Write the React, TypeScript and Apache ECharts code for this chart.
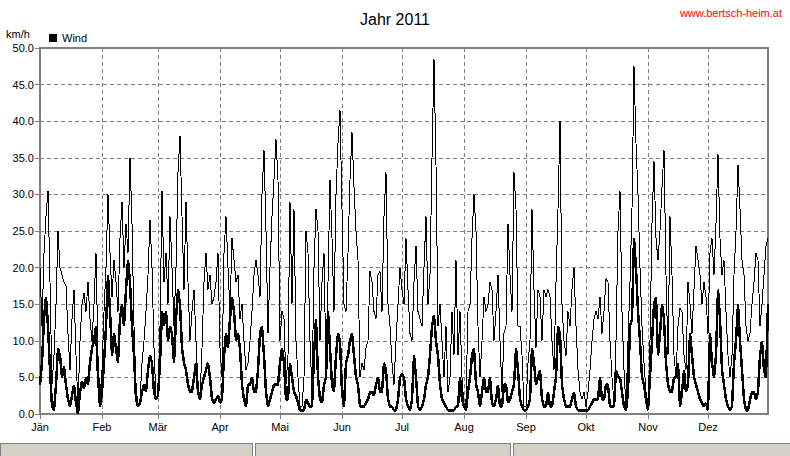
import React, { useEffect, useRef } from "react";
import * as echarts from "echarts";

const monthLabels = ["Jän", "Feb", "Mär", "Apr", "Mai", "Jun", "Jul", "Aug", "Sep", "Okt", "Nov", "Dez"];
const monthStarts = [0, 31, 59, 90, 120, 151, 181, 212, 243, 273, 304, 334];

// daily gusts (thin line), km/h
const gust = [
  20, 12, 22, 27, 30.5, 18, 4, 8, 15, 25,
  20, 19, 18, 17.5, 11, 6, 13, 17, 8, 1,
  10, 15, 16.5, 14, 18, 13, 10, 15, 22, 8,
  2, 6, 14, 20, 30, 22, 16, 21, 18, 14,
  24, 29, 20, 26, 22, 35, 26, 12, 4, 1,
  2, 7, 10, 14, 19, 26.5, 20, 9, 2, 3,
  12, 30.5, 18, 22, 15, 27, 20, 12, 20, 33,
  38, 27, 17, 29, 18, 10, 14, 17, 10, 4,
  2, 9, 18, 22, 17, 19, 15, 16, 18, 22,
  9, 5, 22, 27, 20, 14, 24, 21, 18, 19,
  13, 15, 10, 6, 7, 10, 14, 19, 21, 19,
  16, 30, 36, 25, 11, 20, 27, 32, 37.5, 32,
  10, 14, 13, 4, 8, 29, 15, 28, 10, 5,
  1, 1, 5, 25, 22, 10, 3, 20, 28, 25,
  10, 18, 22, 6, 18, 32, 24, 14, 30, 37,
  41.5, 28, 15, 14, 22, 32, 38.5, 31, 25, 21,
  5, 7, 6, 9, 10, 19.5, 18, 14, 13, 19,
  19.5, 14, 27, 33, 15, 12, 7, 4, 10, 15,
  20, 17, 15, 24, 17, 11, 10, 18, 23, 14,
  13, 12, 20, 27, 15, 19, 35, 48.5, 34, 12,
  15, 10, 5, 12, 3, 5, 14, 8, 21, 8,
  14, 5, 1, 2, 14, 15, 24, 30, 25, 12,
  5, 10, 16, 14, 15, 18, 17, 10, 14, 19,
  10, 3, 11, 12, 26, 19, 14, 33, 28, 12,
  12, 8, 1, 1, 7, 10, 28, 17, 9, 17,
  16, 10, 17, 16, 17, 16, 10, 6, 18, 28,
  40, 15, 10, 8, 14, 12, 17, 20, 12, 6,
  3, 2, 3, 1, 3, 6, 10, 13, 14, 13,
  16, 11, 14, 18.5, 18, 10, 5, 1.5, 10, 25,
  30.5, 14, 6, 1, 10, 18, 28, 47.5, 37, 30,
  20, 12, 7, 3, 0.5, 10, 26, 34.5, 24, 21,
  25, 31, 36, 19, 8, 27, 19, 8, 5, 12,
  14.5, 14, 8, 6, 18, 15, 11, 17, 23, 21,
  19, 15, 18, 16, 11, 22, 24, 19, 26, 35.5,
  24, 19, 21, 14, 8, 5, 8, 19, 25, 34,
  28, 21, 19, 12, 10, 11, 15, 18, 22, 21,
  12, 15, 19, 23, 24,
];

// daily mean wind (thick line), km/h
const wind = [
  4, 7, 13, 16, 12, 6, 1, 0.5, 4, 9,
  8, 5, 6.5, 4, 2, 1, 2.5, 4, 1.5, 0,
  3, 4.5, 3.5, 5, 4, 7, 9, 10, 12, 5,
  1, 3, 7, 12, 19, 14, 8, 11, 9, 7,
  13, 15, 12, 17, 21, 18, 12, 8, 2, 1,
  1.5, 3, 4, 3, 6, 8, 7, 3, 2, 2.5,
  7, 14, 12, 14, 10, 12, 11, 7, 13, 17,
  15, 9, 7, 6, 4, 3, 3, 5, 7, 3,
  2, 4, 5, 6, 7, 5, 2, 1.5, 2, 2.5,
  1.5, 2, 8, 11, 9, 13, 16, 14, 10, 11,
  9, 4, 2, 1, 4, 4, 5, 3, 3, 6,
  11, 12, 8, 3, 1, 2, 3, 4, 4, 4,
  7, 9, 7, 2, 2, 7, 5, 3, 2.5, 1.5,
  0.5, 0.5, 0.5, 2, 1.5, 1, 1, 8, 13, 5,
  2, 1.5, 4, 5, 14, 9, 4, 3, 8, 11,
  10, 3, 1, 7, 8, 10, 11, 8, 5, 4,
  1, 1, 1, 1.5, 2, 3, 3, 2.5, 4, 5,
  3, 3, 7, 6, 2, 1, 1, 0.5, 0.5, 2,
  5, 5.5, 5, 2, 1, 0.5, 2, 8, 5, 1,
  0.5, 1, 2, 4, 5, 8, 12, 13.5, 10, 8,
  4, 2, 1.5, 1, 0.5, 0.5, 0.5, 0.5, 1, 1,
  5, 2, 1, 0.5, 3, 5, 8, 9, 4, 3,
  1, 3, 5, 3, 3, 5, 1.5, 1, 2, 4,
  1, 1, 4, 4, 1.5, 2, 3, 4, 9, 6,
  2, 1, 0.5, 0.5, 1, 2, 9, 7, 4, 5,
  6, 2, 1, 1, 3, 1, 1, 3, 5, 12,
  11, 4, 2, 1, 1, 1, 2, 3, 1, 0.5,
  0.5, 0.5, 0.5, 0.5, 0.5, 1, 1.5, 2, 2, 2,
  5, 2, 2, 4, 4, 1, 1, 1, 6, 5,
  5, 3, 1, 0.5, 3, 12, 13, 24, 20, 14,
  10, 5, 4, 2, 0.5, 5, 10, 15, 16, 8,
  11, 15, 13, 7, 4, 3, 3, 5, 5, 7,
  1, 3, 6, 3, 4, 11, 8, 5, 4, 3,
  2, 1.5, 1, 1.5, 0.5, 11, 7, 5, 8, 17,
  13, 6, 4, 2, 1, 0.5, 1, 7, 10, 15,
  10, 6, 2, 0.5, 0.5, 2, 3, 3, 2, 3,
  8, 10, 6, 5, 15,
];

const FONT = '"Liberation Sans", Arial, sans-serif';
const GREY = "#808080";

export default function App() {
  const ref = useRef<HTMLDivElement>(null);

  useEffect(() => {
    const chart = echarts.init(ref.current!, null, { renderer: "svg" });
    const days = gust.map((_, i) => String(i));
    const startSet = new Set(monthStarts);
    const isStart = (i: number) => startSet.has(i);

    chart.setOption({
      animation: false,
      backgroundColor: "#ffffff",
      textStyle: { fontFamily: FONT },
      title: {
        text: "Jahr 2011",
        left: "center",
        top: 6,
        textStyle: { fontSize: 16, fontWeight: "normal", color: "#000", fontFamily: FONT },
      },
      legend: {
        data: [{ name: "Wind", icon: "rect" }],
        left: 49,
        top: 32,
        padding: 0,
        itemWidth: 8,
        itemHeight: 8,
        itemGap: 5,
        selectedMode: false,
        textStyle: { fontSize: 11, color: "#000", fontFamily: FONT },
      },
      grid: {
        left: 40,
        right: 22,
        top: 48,
        bottom: 42,
        show: true,
        borderColor: GREY,
        borderWidth: 2,
        backgroundColor: "transparent",
      },
      xAxis: {
        type: "category",
        data: days,
        boundaryGap: false,
        axisLine: { lineStyle: { color: GREY, width: 2 } },
        axisTick: {
          show: true,
          interval: (i: number) => isStart(i),
          length: 5,
          lineStyle: { color: GREY, width: 1 },
        },
        axisLabel: {
          interval: (i: number) => isStart(i),
          formatter: (_v: string, i: number) => {
            const k = monthStarts.indexOf(i);
            return k >= 0 ? monthLabels[k] : "";
          },
          color: "#000",
          fontSize: 11,
          margin: 7,
          fontFamily: FONT,
        },
        splitLine: {
          show: true,
          interval: (i: number) => isStart(i) && i !== 0,
          lineStyle: { color: GREY, width: 1, type: [4, 3] },
        },
      },
      yAxis: {
        type: "value",
        min: 0,
        max: 50,
        interval: 5,
        axisLine: { show: true, lineStyle: { color: GREY, width: 2 } },
        axisTick: { show: true, length: 5, lineStyle: { color: GREY, width: 1 } },
        axisLabel: {
          formatter: (v: number) => v.toFixed(1),
          color: "#000",
          fontSize: 11,
          margin: 6,
          fontFamily: FONT,
        },
        splitLine: { show: true, lineStyle: { color: GREY, width: 1, type: [4, 3] } },
      },
      graphic: [
        {
          type: "text",
          left: 6,
          top: 28,
          style: { text: "km/h", fill: "#000", font: `11px ${FONT}` },
        },
        {
          type: "text",
          right: 8,
          top: 7,
          style: { text: "www.bertsch-heim.at", fill: "#ff0000", font: `11px ${FONT}` },
        },
        {
          type: "rect",
          shape: { x: 0, y: 443, width: 252, height: 14 },
          style: { fill: "#d4d0c8", stroke: GREY, lineWidth: 1 },
        },
        {
          type: "rect",
          shape: { x: 255, y: 443, width: 255, height: 14 },
          style: { fill: "#d4d0c8", stroke: GREY, lineWidth: 1 },
        },
        {
          type: "rect",
          shape: { x: 513, y: 443, width: 277, height: 14 },
          style: { fill: "#d4d0c8", stroke: GREY, lineWidth: 1 },
        },
      ],
      series: [
        {
          name: "Spitze",
          type: "line",
          data: gust,
          symbol: "none",
          silent: true,
          lineStyle: { color: "#000", width: 1 },
          itemStyle: { color: "#000" },
          z: 2,
        },
        {
          name: "Wind",
          type: "line",
          data: wind,
          symbol: "none",
          silent: true,
          lineStyle: { color: "#000", width: 2.5 },
          itemStyle: { color: "#000" },
          z: 3,
        },
      ],
    });

    return () => chart.dispose();
  }, []);

  return (
    <>
      <style>{"#wind-chart svg path{shape-rendering:crispEdges}"}</style>
      <div
        id="wind-chart"
        ref={ref}
        style={{ position: "fixed", left: 0, top: 0, width: 790, height: 456, background: "#fff" }}
      />
    </>
  );
}
